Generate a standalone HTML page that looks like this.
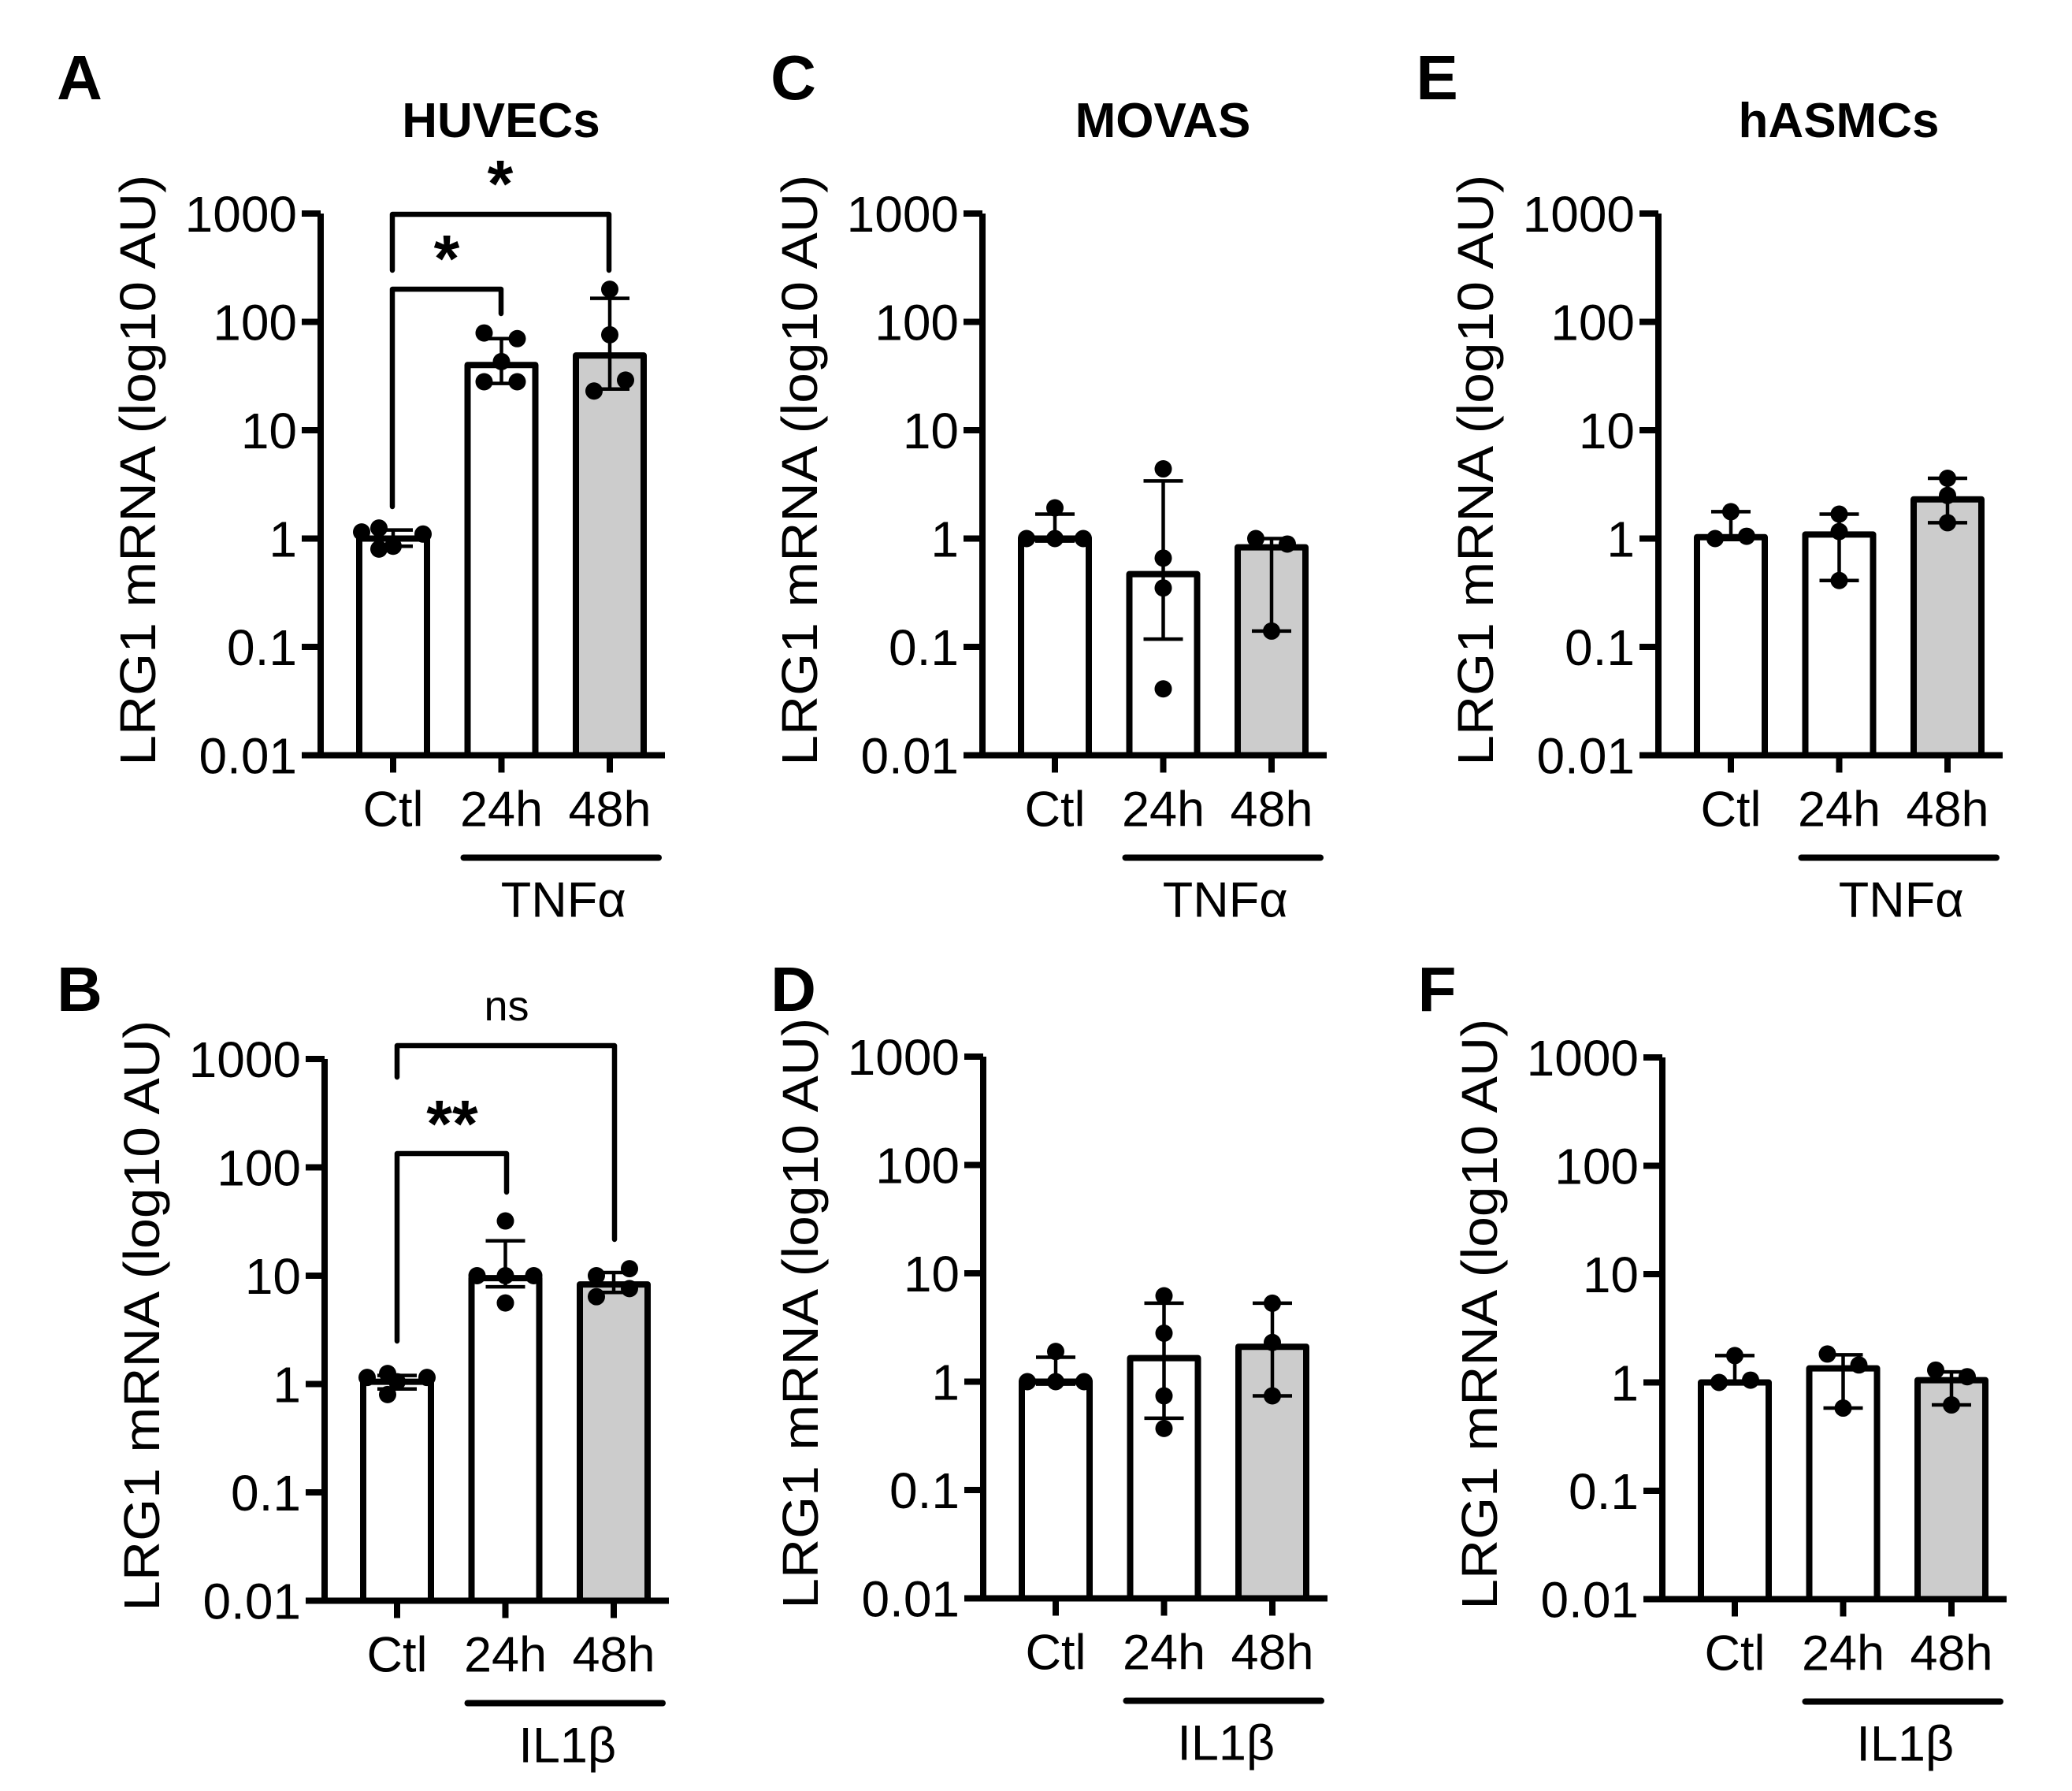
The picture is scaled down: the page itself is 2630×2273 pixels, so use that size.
<!DOCTYPE html>
<html><head><meta charset="utf-8"><style>
html,body{margin:0;padding:0;background:#fff;}
svg{display:block;font-family:"Liberation Sans",Arial,sans-serif;}
</style></head><body>
<svg id="fig" width="2630" height="2273" viewBox="0 0 2630 2273" xmlns="http://www.w3.org/2000/svg"></svg>
<script>
// ---- data ----
const categories = ["Ctl","24h","48h"];
const tickValues = [1000,100,10,1,0.1,0.01];
const tickLabels = ["1000","100","10","1","0.1","0.01"];
// panel A (HUVECs, TNFα)
const aMeans = [1.0, 40, 49];
const aErrHi = [1.2, 70, 165];
const aErrLo = [0.85, 27, 24];
const aPts = [[1.15,1.25,1.1,0.85,0.8],[79,70,43,28,28],[200,76,29,23]];
// panel B (HUVECs, IL1β)
const bMeans = [1.05, 9.5, 8.3];
const bErrHi = [1.2, 21, 10.7];
const bErrLo = [0.9, 7.9, 7.0];
const bPts = [[1.15,1.25,1.15,0.8,1.05],[32,10,10,10,5.6],[10,11.6,7.6,6.4]];
// panel C (MOVAS, TNFα)
const cMeans = [1.0, 0.47, 0.83];
const cErrHi = [1.68, 3.4, 1.0];
const cErrLo = [0.95, 0.118, 0.14];
const cPts = [[1.0,1.92,1.0,1.0],[4.4,0.66,0.35,0.041],[1.0,0.89,0.14]];
// panel D (MOVAS, IL1β)
const dMeans = [1.0, 1.65, 2.1];
const dErrHi = [1.68, 5.3, 5.3];
const dErrLo = [0.95, 0.46, 0.74];
const dPts = [[1.0,1.9,1.0,1.0],[6.2,2.8,0.74,0.37],[5.3,2.3,0.74]];
// panel E (hASMCs, TNFα)
const eMeans = [1.03, 1.09, 2.3];
const eErrHi = [1.77, 1.68, 3.6];
const eErrLo = [0.98, 0.41, 1.4];
const ePts = [[1.0,1.77,1.05],[1.68,1.16,0.41],[3.6,2.5,1.4]];
// panel F (hASMCs, IL1β)
const fMeans = [1.0, 1.35, 1.05];
const fErrHi = [1.77, 1.8, 1.25];
const fErrLo = [0.97, 0.58, 0.62];
const fPts = [[1.0,1.77,1.05],[1.83,1.45,0.58],[1.3,1.13,0.62]];

// horizontal jitter of dots (layout, px)
const jitA = [[-40,-18,38,0,-18],[-22,20,0,-22,20],[0,0,20,-20]];
const jitB = [[-38,-12,38,-12,0],[0,-36,0,36,0],[-22,20,20,-22]];
const jitC = [[-36,0,0,36],[0,0,0,0],[-20,20,0]];
const jitD = [[-36,0,0,36],[0,0,0,0],[0,0,0]];
const jitE = [[-20,0,20],[0,0,0],[0,0,0]];
const jitF = [[-20,0,20],[-20,20,0],[-20,20,0]];

const NS="http://www.w3.org/2000/svg";
const svg=document.getElementById('fig');
function mk(tag,attrs,parent){const e=document.createElementNS(NS,tag);for(const k in attrs)e.setAttribute(k,attrs[k]);(parent||svg).appendChild(e);return e;}

const panels=[
 {id:"a",letter:"A",lx:101,ly:126,title:"HUVECs",ax:407,y0:271,means:aMeans,hi:aErrHi,lo:aErrLo,pts:aPts,jit:jitA,treat:"TNFα"},
 {id:"b",letter:"B",lx:101,ly:1283,title:"",ax:412,y0:1344,means:bMeans,hi:bErrHi,lo:bErrLo,pts:bPts,jit:jitB,treat:"IL1β"},
 {id:"c",letter:"C",lx:1007,ly:126,title:"MOVAS",ax:1247,y0:271,means:cMeans,hi:cErrHi,lo:cErrLo,pts:cPts,jit:jitC,treat:"TNFα"},
 {id:"d",letter:"D",lx:1007,ly:1283,title:"",ax:1248,y0:1341,means:dMeans,hi:dErrHi,lo:dErrLo,pts:dPts,jit:jitD,treat:"IL1β"},
 {id:"e",letter:"E",lx:1824,ly:126,title:"hASMCs",ax:2105,y0:271,means:eMeans,hi:eErrHi,lo:eErrLo,pts:ePts,jit:jitE,treat:"TNFα"},
 {id:"f",letter:"F",lx:1824,ly:1283,title:"",ax:2110,y0:1342,means:fMeans,hi:fErrHi,lo:fErrLo,pts:fPts,jit:jitF,treat:"IL1β"}
];
const DEC=137.5, BW=86, GAP=137.5;

panels.forEach(p=>{
  const g=mk('g',{});
  
  
  const y=v=>p.y0+(3-Math.log10(v))*DEC;
  const x=i=>p.ax+92+i*GAP;
  const yBase=y(0.01);
  const L=mk('text',{x:p.lx,y:p.ly,'font-size':80,'font-weight':'bold','text-anchor':'middle'},g);L.textContent=p.letter;
  
  
  if(p.title){const t=mk('text',{x:p.ax+229,y:174,'font-size':62,'font-weight':'bold','text-anchor':'middle'},g);t.textContent=p.title;
    
    }
  const cy=(p.y0+yBase)/2-18;
  const yt=mk('text',{x:0,y:0,'font-size':64,'text-anchor':'middle',transform:`translate(${p.ax-210},${cy}) rotate(-90)`,textLength:750,lengthAdjust:'spacingAndGlyphs'},g);
  yt.textContent="LRG1 mRNA (log10 AU)";
  
  
  categories.forEach((c,i)=>{
    const top=y(p.means[i]);
    const r=mk('rect',{x:x(i)-BW/2,y:top,width:BW,height:yBase-top,fill:i==2?'#cccccc':'#ffffff',stroke:'#000','stroke-width':8,'stroke-linejoin':'round'},g);
    
    
  });
  categories.forEach((c,i)=>{
    const e=mk('g',{stroke:'#000','stroke-width':4.5},g);
    
    
    mk('line',{x1:x(i),x2:x(i),y1:y(p.hi[i]),y2:y(p.lo[i])},e);
    mk('line',{x1:x(i)-25,x2:x(i)+25,y1:y(p.hi[i]),y2:y(p.hi[i])},e);
    mk('line',{x1:x(i)-25,x2:x(i)+25,y1:y(p.lo[i]),y2:y(p.lo[i])},e);
    p.pts[i].forEach((v,k)=>{
      const d=mk('circle',{cx:x(i)+(p.jit[i][k]||0),cy:y(v),r:11,fill:'#000'},g);
      
      
    });
  });
  const ya=mk('path',{d:`M${p.ax} ${p.y0} V${yBase}`,stroke:'#000','stroke-width':8,fill:'none'},g);
  
  
  tickValues.forEach((v,k)=>{
    mk('line',{x1:p.ax-24,x2:p.ax,y1:y(v),y2:y(v),stroke:'#000','stroke-width':8},g);
    const t=mk('text',{x:p.ax-30,y:y(v)+23,'font-size':64,'text-anchor':'end'},g);t.textContent=tickLabels[k];
    
    
  });
  const xa=mk('line',{x1:p.ax-4,x2:p.ax+437,y1:yBase,y2:yBase,stroke:'#000','stroke-width':8},g);
  
  
  categories.forEach((c,i)=>{
    mk('line',{x1:x(i),x2:x(i),y1:yBase,y2:yBase+22,stroke:'#000','stroke-width':8},g);
    const t=mk('text',{x:x(i),y:yBase+90,'font-size':63,'text-anchor':'middle'},g);t.textContent=c;
    
    
  });
  const tl=mk('line',{x1:x(1)-48,x2:x(2)+62,y1:yBase+130,y2:yBase+130,stroke:'#000','stroke-width':8,'stroke-linecap':'round'},g);
  
  
  const tt=mk('text',{x:(x(1)+x(2))/2+10,y:yBase+205,'font-size':63,'text-anchor':'middle'},g);tt.textContent=p.treat;
  
  
});

function bracket(x1,x2,yTop,yL,yR,label,lx,ly,size,bold,name){
  const g=mk('g',{});
  
  
  mk('path',{d:`M${x1} ${yL} V${yTop} H${x2} V${yR}`,fill:'none',stroke:'#000','stroke-width':6.5,'stroke-linecap':'round','stroke-linejoin':'round'},g);
  const t=mk('text',{x:lx,y:ly,'font-size':size,'font-weight':bold?'bold':'normal','text-anchor':'middle'},g);t.textContent=label;
}
bracket(498,773,272,343,343,"*",635,262,84,true,'significance-bracket-ctl-48h');
bracket(498,636,367,643,398,"*",567,357,84,true,'significance-bracket-ctl-24h');
bracket(504,780,1327,1367,1573,"ns",643,1295,54,false,'significance-bracket-ns');
bracket(504,643,1464,1702,1513,"**",574,1455,84,true,'significance-bracket-ctl-24h-b');
</script>
</body></html>
